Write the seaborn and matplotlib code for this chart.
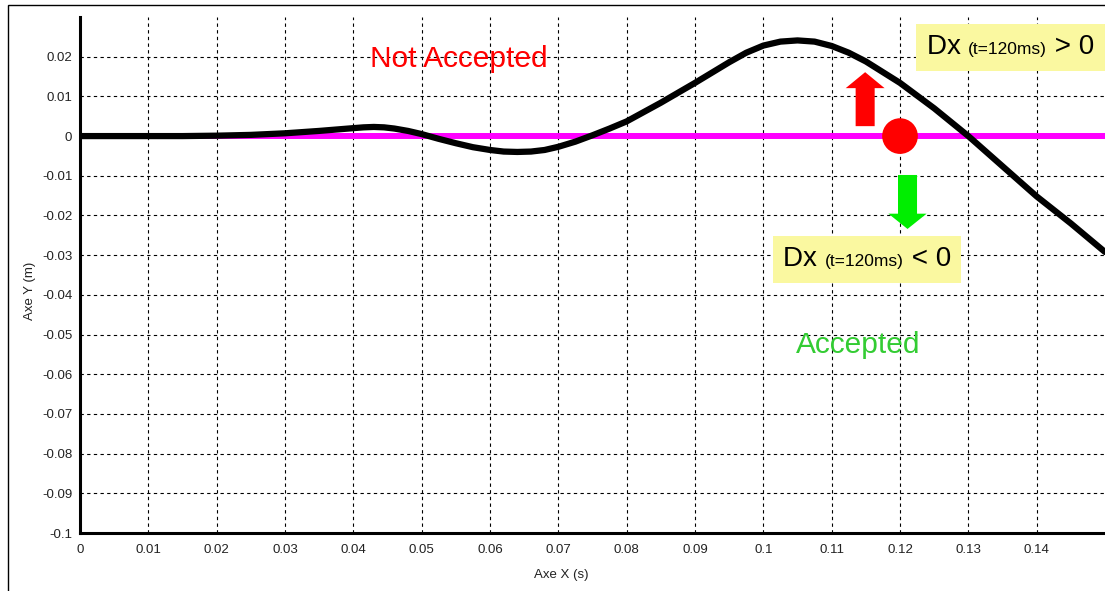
import matplotlib
matplotlib.use("Agg")
import matplotlib.pyplot as plt
import seaborn as sns
import pandas as pd
from matplotlib.patches import FancyArrowPatch, Rectangle, ArrowStyle
from matplotlib.offsetbox import TextArea, HPacker, AnnotationBbox

# trajectory
time_s = [0.0, 0.005, 0.01, 0.015, 0.02, 0.025, 0.03, 0.035, 0.04, 0.0415,
          0.043, 0.0445, 0.046, 0.048, 0.05, 0.0525, 0.055, 0.0575, 0.06,
          0.062, 0.064, 0.066, 0.068, 0.07, 0.0725, 0.075, 0.0775, 0.08,
          0.085, 0.09, 0.095, 0.0975, 0.1, 0.1025, 0.105, 0.1075, 0.11,
          0.1125, 0.115, 0.12, 0.125, 0.13, 0.135, 0.14, 0.145, 0.15]
axe_y = [0.0, 0.0, 0.0, 0.0, 0.0001, 0.0003, 0.0007, 0.0013, 0.0020, 0.0022,
         0.0023, 0.0022, 0.0019, 0.0013, 0.0005, -0.0007, -0.0018, -0.0028,
         -0.0035, -0.0039, -0.0040, -0.0039, -0.0035, -0.0027, -0.0014,
         0.0002, 0.0019, 0.0037, 0.0084, 0.0134, 0.0186, 0.0210, 0.0228,
         0.0238, 0.0241, 0.0238, 0.0227, 0.0210, 0.0188, 0.0134, 0.0070,
         0.0, -0.0076, -0.0152, -0.0220, -0.0292]

# reference line (y = 0) and check point at t = 120 ms
ref_x = [0.0, 0.15]
ref_y = [0.0, 0.0]
check_x = [0.12]
check_y = [0.0]

x_ticks = [0.0, 0.01, 0.02, 0.03, 0.04, 0.05, 0.06, 0.07, 0.08, 0.09, 0.1,
           0.11, 0.12, 0.13, 0.14]
x_tick_labels = ["0", "0.01", "0.02", "0.03", "0.04", "0.05", "0.06", "0.07",
                 "0.08", "0.09", "0.1", "0.11", "0.12", "0.13", "0.14"]
y_ticks = [0.02, 0.01, 0.0, -0.01, -0.02, -0.03, -0.04, -0.05, -0.06, -0.07,
           -0.08, -0.09, -0.1]
y_tick_labels = ["0.02", "0.01", "0", "-0.01", "-0.02", "-0.03", "-0.04",
                 "-0.05", "-0.06", "-0.07", "-0.08", "-0.09", "-0.1"]

sns.set_style("white")
plt.rcParams["font.family"] = ["Liberation Sans", "DejaVu Sans"]

fig = plt.figure(figsize=(11.05, 5.91), dpi=100)
ax = fig.add_axes([80 / 1105, 1 - 533 / 591, 1 - 80 / 1105, (533 - 17) / 591])

# outer frame of the picture
fig.patches.append(Rectangle((8 / 1105, -0.01), 1.0, 1 - 5 / 591 + 0.01,
                             transform=fig.transFigure, fill=False,
                             edgecolor="black", linewidth=1.0))

df_ref = pd.DataFrame({"x": ref_x, "y": ref_y})
df_traj = pd.DataFrame({"x": time_s, "y": axe_y})
sns.lineplot(data=df_ref, x="x", y="y", ax=ax, color="#FF00FF", linewidth=4.3,
             zorder=3)
sns.lineplot(data=df_traj, x="x", y="y", ax=ax, color="black", linewidth=4.5,
             zorder=4, solid_joinstyle="round")
sns.scatterplot(x=check_x, y=check_y, ax=ax, color="#FF0000", s=660,
                edgecolor="none", zorder=6)

ax.set_xlim(0, 0.15)
ax.set_ylim(-0.1, 0.03)
ax.set_xticks(x_ticks)
ax.set_xticklabels(x_tick_labels)
ax.set_yticks(y_ticks)
ax.set_yticklabels(y_tick_labels)
ax.tick_params(labelsize=9.5, length=2, colors="#222222", labelcolor="#222222")
ax.tick_params(axis="x", pad=6)
ax.grid(True, color="black", linestyle=(0, (3, 3)), linewidth=0.8)
ax.set_axisbelow(True)
for side in ["top", "right"]:
    ax.spines[side].set_visible(False)
for side in ["left", "bottom"]:
    ax.spines[side].set_linewidth(2.2)
    ax.spines[side].set_color("black")
ax.set_xlabel("Axe X (s)", fontsize=9.5, color="#222222")
ax.set_ylabel("Axe Y (m)", fontsize=9.5, color="#222222")
ax.xaxis.set_label_coords(0.47, -0.07)
ax.yaxis.set_label_coords(-0.043, 0.47)

# up / down arrows
up = FancyArrowPatch((0.1149, 0.0025), (0.1149, 0.0161),
                     arrowstyle=ArrowStyle.Simple(head_length=11.5, head_width=28,
                                                  tail_width=13.7),
                     mutation_scale=1, color="#FF0000", linewidth=0,
                     shrinkA=0, shrinkB=0, zorder=5)
down = FancyArrowPatch((0.1211, -0.0098), (0.1211, -0.0234),
                       arrowstyle=ArrowStyle.Simple(head_length=11, head_width=27.5,
                                                    tail_width=13.7),
                       mutation_scale=1, color="#00EE00", linewidth=0,
                       shrinkA=0, shrinkB=0, zorder=5)
ax.add_patch(up)
ax.add_patch(down)

ax.text(0.0555, 0.0195, "Not Accepted", color="#FF0000", fontsize=21.5,
        ha="center", va="center", zorder=7)
ax.text(0.1139, -0.0527, "Accepted", color="#33CC33", fontsize=21.5,
        ha="center", va="center", zorder=7)


def dx_box(sign, xy):
    parts = [TextArea("Dx ", textprops=dict(fontsize=20, color="black")),
             TextArea("(t=120ms)", textprops=dict(fontsize=12.5, color="black")),
             TextArea(" " + sign + " 0", textprops=dict(fontsize=20, color="black"))]
    pack = HPacker(children=parts, align="baseline", pad=0, sep=0)
    box = AnnotationBbox(pack, xy, xycoords="data", box_alignment=(0, 0.5),
                         frameon=True, pad=0.75,
                         bboxprops=dict(facecolor="#FAF8A0", edgecolor="none"),
                         zorder=8, annotation_clip=False)
    ax.add_artist(box)


dx_box(">", (0.1239, 0.0224))
dx_box("<", (0.1029, -0.0310))

fig.savefig("out.png", dpi=100)
